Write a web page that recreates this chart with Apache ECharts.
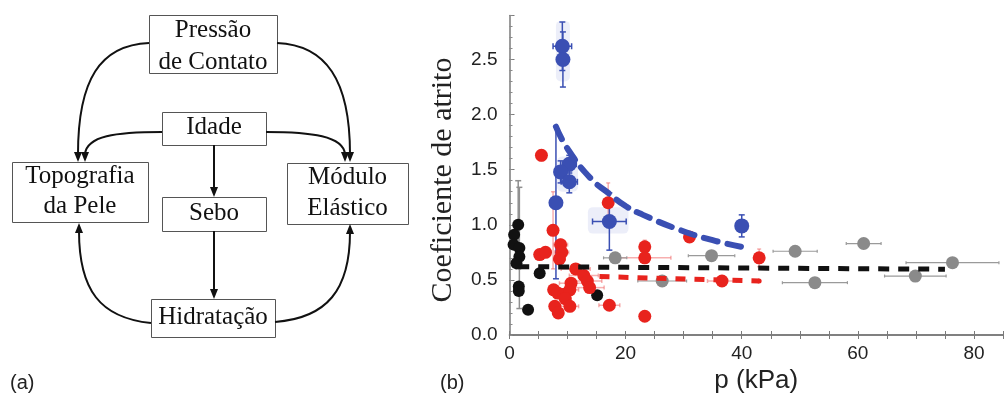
<!DOCTYPE html>
<html><head><meta charset="utf-8">
<script src="https://cdn.jsdelivr.net/npm/echarts@6/dist/echarts.min.js"></script>
<style>html,body{margin:0;padding:0;background:#fff}#c{width:1006px;height:399px}</style>
</head><body><div id="c"></div>
<script>
// ---------- data ----------
const xTicks = [0, 20, 40, 60, 80];
const yTicks = [0.0, 0.5, 1.0, 1.5, 2.0, 2.5];
const nodeLabels = ['Pressão\nde Contato', 'Idade', 'Topografia\nda Pele', 'Sebo', 'Módulo\nElástico', 'Hidratação'];

const blueX = [9.1, 9.2, 10.3, 8.8, 10.3, 8.0, 17.2, 40.0];
const blueY = [2.62, 2.50, 1.55, 1.48, 1.39, 1.20, 1.03, 0.99];
const blueErrX = [1.6, 0, 1.2, 0.9, 1.4, 0, 2.9, 0];
const blueErrY = [0.22, 0.25, 0.08, 0.10, 0.10, 0.69, 0.26, 0.10];
const blueBoxX1 = [8.0, 8.2, 13.5];
const blueBoxX2 = [10.4, 11.8, 20.5];
const blueBoxY1 = [2.30, 1.30, 0.92];
const blueBoxY2 = [2.85, 1.62, 1.16];

const redX = [5.5, 17.0, 7.5, 31.0, 23.3, 23.3, 43.0, 5.2, 6.2, 8.8, 9.0, 8.6, 11.4, 12.8, 13.4, 13.8, 10.6, 7.6, 8.3, 9.4, 10.4, 9.6, 7.8, 8.4, 10.4, 17.2, 23.3, 36.6];
const redY = [1.63, 1.20, 0.95, 0.89, 0.80, 0.70, 0.70, 0.73, 0.75, 0.82, 0.75, 0.69, 0.60, 0.54, 0.49, 0.43, 0.47, 0.41, 0.38, 0.37, 0.41, 0.33, 0.26, 0.20, 0.26, 0.27, 0.17, 0.49];
const redErrX = [0.8, 0.6, 0.5, 0, 0.8, 4.5, 0, 0.8, 1.0, 1.2, 1.2, 1.0, 2.5, 2.5, 2.5, 2.5, 2.0, 0.8, 1.0, 1.0, 1.5, 1.0, 0.8, 0.8, 1.5, 1.8, 0, 2.5];
const redErrY = [0.05, 0.18, 0.35, 0, 0.06, 0.05, 0.08, 0, 0, 0.05, 0, 0, 0, 0, 0, 0, 0, 0, 0, 0, 0, 0, 0, 0, 0, 0, 0, 0];
const redSmallX = [43.0];
const redSmallY = [0.49];

const blackX = [1.5, 0.8, 0.7, 1.7, 1.7, 1.2, 5.2, 1.6, 1.6, 3.2, 15.1];
const blackY = [1.00, 0.91, 0.82, 0.79, 0.71, 0.65, 0.56, 0.44, 0.40, 0.23, 0.36];
const blackErrY = [0.40, 0, 0, 0.55, 0, 0, 0, 0, 0, 0, 0];

const grayX = [18.2, 26.3, 34.8, 49.2, 61.0, 52.6, 69.9, 76.3];
const grayY = [0.70, 0.49, 0.72, 0.76, 0.83, 0.475, 0.535, 0.656];
const grayErrX = [2.0, 4.2, 4.0, 3.8, 3.0, 5.6, 5.3, 8.0];

const blueFitX = [8, 10, 14, 17, 20, 23, 29, 35, 40];
const blueFitY = [1.89, 1.69, 1.42, 1.29, 1.17, 1.09, 0.96, 0.86, 0.80];
const blackFitX = [1.5, 75];
const blackFitY = [0.62, 0.597];
const redFitX = [15.5, 43];
const redFitY = [0.53, 0.49];

// ---------- helpers ----------
const zip = (a, b) => a.map((v, i) => [v, b[i]]);
function errData(xs, ys, exs, eys) {
  return xs.map((x, i) => [x, ys[i], exs ? exs[i] : 0, eys ? eys[i] : 0]);
}
function errRender(color, width, cap) {
  return function (params, api) {
    const x = api.value(0), y = api.value(1), ex = api.value(2), ey = api.value(3);
    const c = api.coord([x, y]);
    const st = { stroke: color, lineWidth: width };
    const ch = [];
    if (ex > 0) {
      const l = api.coord([x - ex, y]), r = api.coord([x + ex, y]);
      ch.push({ type: 'line', shape: { x1: l[0], y1: c[1], x2: r[0], y2: c[1] }, style: st });
      ch.push({ type: 'line', shape: { x1: l[0], y1: c[1] - cap, x2: l[0], y2: c[1] + cap }, style: st });
      ch.push({ type: 'line', shape: { x1: r[0], y1: c[1] - cap, x2: r[0], y2: c[1] + cap }, style: st });
    }
    if (ey > 0) {
      const t = api.coord([x, y + ey]), b = api.coord([x, y - ey]);
      ch.push({ type: 'line', shape: { x1: c[0], y1: t[1], x2: c[0], y2: b[1] }, style: st });
      ch.push({ type: 'line', shape: { x1: c[0] - cap, y1: t[1], x2: c[0] + cap, y2: t[1] }, style: st });
      ch.push({ type: 'line', shape: { x1: c[0] - cap, y1: b[1], x2: c[0] + cap, y2: b[1] }, style: st });
    }
    return { type: 'group', children: ch };
  };
}

const BLUE = '#3a4fb3', RED = '#e8231d', BLACK = '#111111', GRAY = '#8a8a8a';
const SERIF = '"Liberation Serif", "DejaVu Serif", serif';
const SANS = '"Liberation Sans", Arial, sans-serif';

// ---------- diagram (panel a) ----------
const boxes = [
  { x: 149, y: 15, w: 128, h: 58, cy: 46, lh: 32 },
  { x: 162, y: 112, w: 104, h: 33, cy: 127, lh: 30 },
  { x: 12, y: 162, w: 136, h: 60, cy: 191, lh: 30 },
  { x: 162, y: 197, w: 104, h: 34, cy: 213, lh: 30 },
  { x: 287, y: 163, w: 121, h: 61, cy: 193, lh: 31 },
  { x: 151, y: 299, w: 124, h: 38, cy: 317, lh: 30 }
];
const g = [];
boxes.forEach((b, i) => {
  g.push({ type: 'rect', shape: { x: b.x + 0.5, y: b.y + 0.5, width: b.w, height: b.h }, style: { fill: '#fff', stroke: '#555', lineWidth: 1 } });
  g.push({ type: 'text', x: b.x + b.w / 2, y: b.cy, style: { text: nodeLabels[i], fontFamily: SERIF, fontSize: 25, lineHeight: b.lh, align: 'center', verticalAlign: 'middle', fill: '#111' } });
});
const curves = [
  [149, 43, 100, 45, 78, 80, 78, 154],
  [277, 43, 326, 45, 350, 80, 350, 154],
  [162, 132, 115, 132, 87, 136, 85, 154],
  [266, 132, 312, 132, 343, 136, 345, 154],
  [214, 145, 214, 160, 214, 175, 214, 189],
  [214, 231, 214, 250, 214, 270, 214, 291],
  [151, 323, 100, 318, 79, 290, 79, 231],
  [275, 322, 327, 318, 350, 290, 350, 232]
];
curves.forEach(c => {
  g.push({ type: 'bezierCurve', shape: { x1: c[0], y1: c[1], cpx1: c[2], cpy1: c[3], cpx2: c[4], cpy2: c[5], x2: c[6], y2: c[7] }, style: { stroke: '#111', lineWidth: 2, fill: null } });
});
const heads = [[78, 162, 1], [350, 162, 1], [85, 162, 1], [345, 162, 1], [214, 197, 1], [214, 299, 1], [79, 223, -1], [350, 224, -1]];
heads.forEach(h => {
  const d = h[2];
  g.push({ type: 'polygon', shape: { points: [[h[0], h[1]], [h[0] - 4, h[1] - 10 * d], [h[0] + 4, h[1] - 10 * d]] }, style: { fill: '#111' } });
});
g.push({ type: 'text', x: 10, y: 383, style: { text: '(a)', fontFamily: SANS, fontSize: 20, fill: '#222', verticalAlign: 'middle' } });
g.push({ type: 'text', x: 440, y: 383, style: { text: '(b)', fontFamily: SANS, fontSize: 20, fill: '#222', verticalAlign: 'middle' } });
g.push({ type: 'text', x: 443, y: 180, rotation: Math.PI / 2, style: { text: 'Coeficiente de atrito', fontFamily: SERIF, fontSize: 30, fill: '#222', align: 'center', verticalAlign: 'middle' } });

// ---------- chart (panel b) ----------
const axisLineStyle = { color: '#7a7a7a', width: 1.5 };
const isTick = (arr, v) => arr.some(t => Math.abs(t - v) < 1e-6);

const option = {
  animation: false,
  graphic: g,
  grid: { left: 509.5, top: 15.4, width: 506, height: 319.6, containLabel: false },
  xAxis: [
    { type: 'value', min: 0, max: 85, interval: 5, position: 'bottom',
      name: 'p (kPa)', nameLocation: 'middle', nameGap: 32,
      nameTextStyle: { fontFamily: SANS, fontSize: 26, color: '#222' },
      axisLine: { lineStyle: axisLineStyle }, axisTick: { inside: true, length: 4, lineStyle: { color: '#7a7a7a' } },
      axisLabel: { fontFamily: SANS, fontSize: 19, color: '#222', margin: 9, formatter: v => isTick(xTicks, v) ? String(v) : '' },
      splitLine: { show: false } },
    { type: 'value', min: 0, max: 85, interval: 5, position: 'top',
      axisLine: { lineStyle: axisLineStyle }, axisTick: { inside: true, length: 4, lineStyle: { color: '#7a7a7a' } },
      axisLabel: { show: false }, splitLine: { show: false } }
  ],
  yAxis: [
    { type: 'value', min: 0, max: 2.9, interval: 0.5, position: 'left',
      axisLine: { lineStyle: axisLineStyle }, axisTick: { inside: true, length: 5, lineStyle: { color: '#7a7a7a' } },
      axisLabel: { fontFamily: SANS, fontSize: 19, color: '#222', margin: 12, formatter: v => isTick(yTicks, v) ? v.toFixed(1) : '' },
      splitLine: { show: false } },
    { type: 'value', min: 0, max: 2.9, interval: 0.1, position: 'left',
      axisLine: { show: false }, axisTick: { inside: true, length: 3, lineStyle: { color: '#8a8a8a' } },
      axisLabel: { show: false }, splitLine: { show: false } }
  ],
  series: [
    { type: 'custom', name: 'blueBoxes', z: 1, encode: { x: [0, 1], y: [2, 3] },
      data: blueBoxX1.map((v, i) => [v, blueBoxX2[i], blueBoxY1[i], blueBoxY2[i]]),
      renderItem: (p, api) => {
        const a = api.coord([api.value(0), api.value(3)]), b = api.coord([api.value(1), api.value(2)]);
        return { type: 'rect', shape: { x: a[0], y: a[1], width: b[0] - a[0], height: b[1] - a[1], r: 5 }, style: { fill: 'rgba(150,160,220,0.18)' } };
      } },
    { type: 'custom', name: 'redErr', z: 2, encode: { x: 0, y: 1 }, data: errData(redX, redY, redErrX, redErrY), renderItem: errRender('rgba(240,110,110,0.55)', 1.5, 2) },
    { type: 'custom', name: 'grayErr', z: 2, encode: { x: 0, y: 1 }, data: errData(grayX, grayY, grayErrX, null), renderItem: errRender('#9a9a9a', 1.2, 1.5) },
    { type: 'custom', name: 'blackErr', z: 2, encode: { x: 0, y: 1 }, data: errData(blackX, blackY, null, blackErrY), renderItem: errRender('#8f8f8f', 1.5, 3) },
    { type: 'custom', name: 'blueErr', z: 3, encode: { x: 0, y: 1 }, data: errData(blueX, blueY, blueErrX, blueErrY), renderItem: errRender(BLUE, 1.5, 3) },
    { type: 'scatter', name: 'gray', z: 4, symbol: 'circle', symbolSize: 13, itemStyle: { color: GRAY, opacity: 1 }, data: zip(grayX, grayY) },
    { type: 'scatter', name: 'black', z: 4, symbol: 'circle', symbolSize: 12, itemStyle: { color: BLACK, opacity: 1 }, data: zip(blackX, blackY) },
    { type: 'scatter', name: 'red', z: 4, symbol: 'circle', symbolSize: 13, itemStyle: { color: RED, opacity: 1 }, data: zip(redX, redY) },
    { type: 'scatter', name: 'redSmall', z: 4, symbol: 'circle', symbolSize: 5, itemStyle: { color: RED, opacity: 1 }, data: zip(redSmallX, redSmallY) },
    { type: 'scatter', name: 'blue', z: 5, symbol: 'circle', symbolSize: 15, itemStyle: { color: BLUE, opacity: 1 }, data: zip(blueX, blueY) },
    { type: 'line', name: 'blackFit', z: 6, symbol: 'none', data: zip(blackFitX, blackFitY), lineStyle: { color: BLACK, width: 5, type: [11, 9] } },
    { type: 'line', name: 'redFit', z: 6, symbol: 'none', data: zip(redFitX, redFitY), lineStyle: { color: RED, width: 5, type: [10, 9] } },
    { type: 'line', name: 'blueFit', z: 6, symbol: 'none', smooth: true, data: zip(blueFitX, blueFitY), lineStyle: { color: BLUE, width: 6, type: [14, 10], cap: 'round' } }
  ]
};
const chart = echarts.init(document.getElementById('c'), null, { renderer: 'canvas' });
chart.setOption(option);
</script></body></html>
